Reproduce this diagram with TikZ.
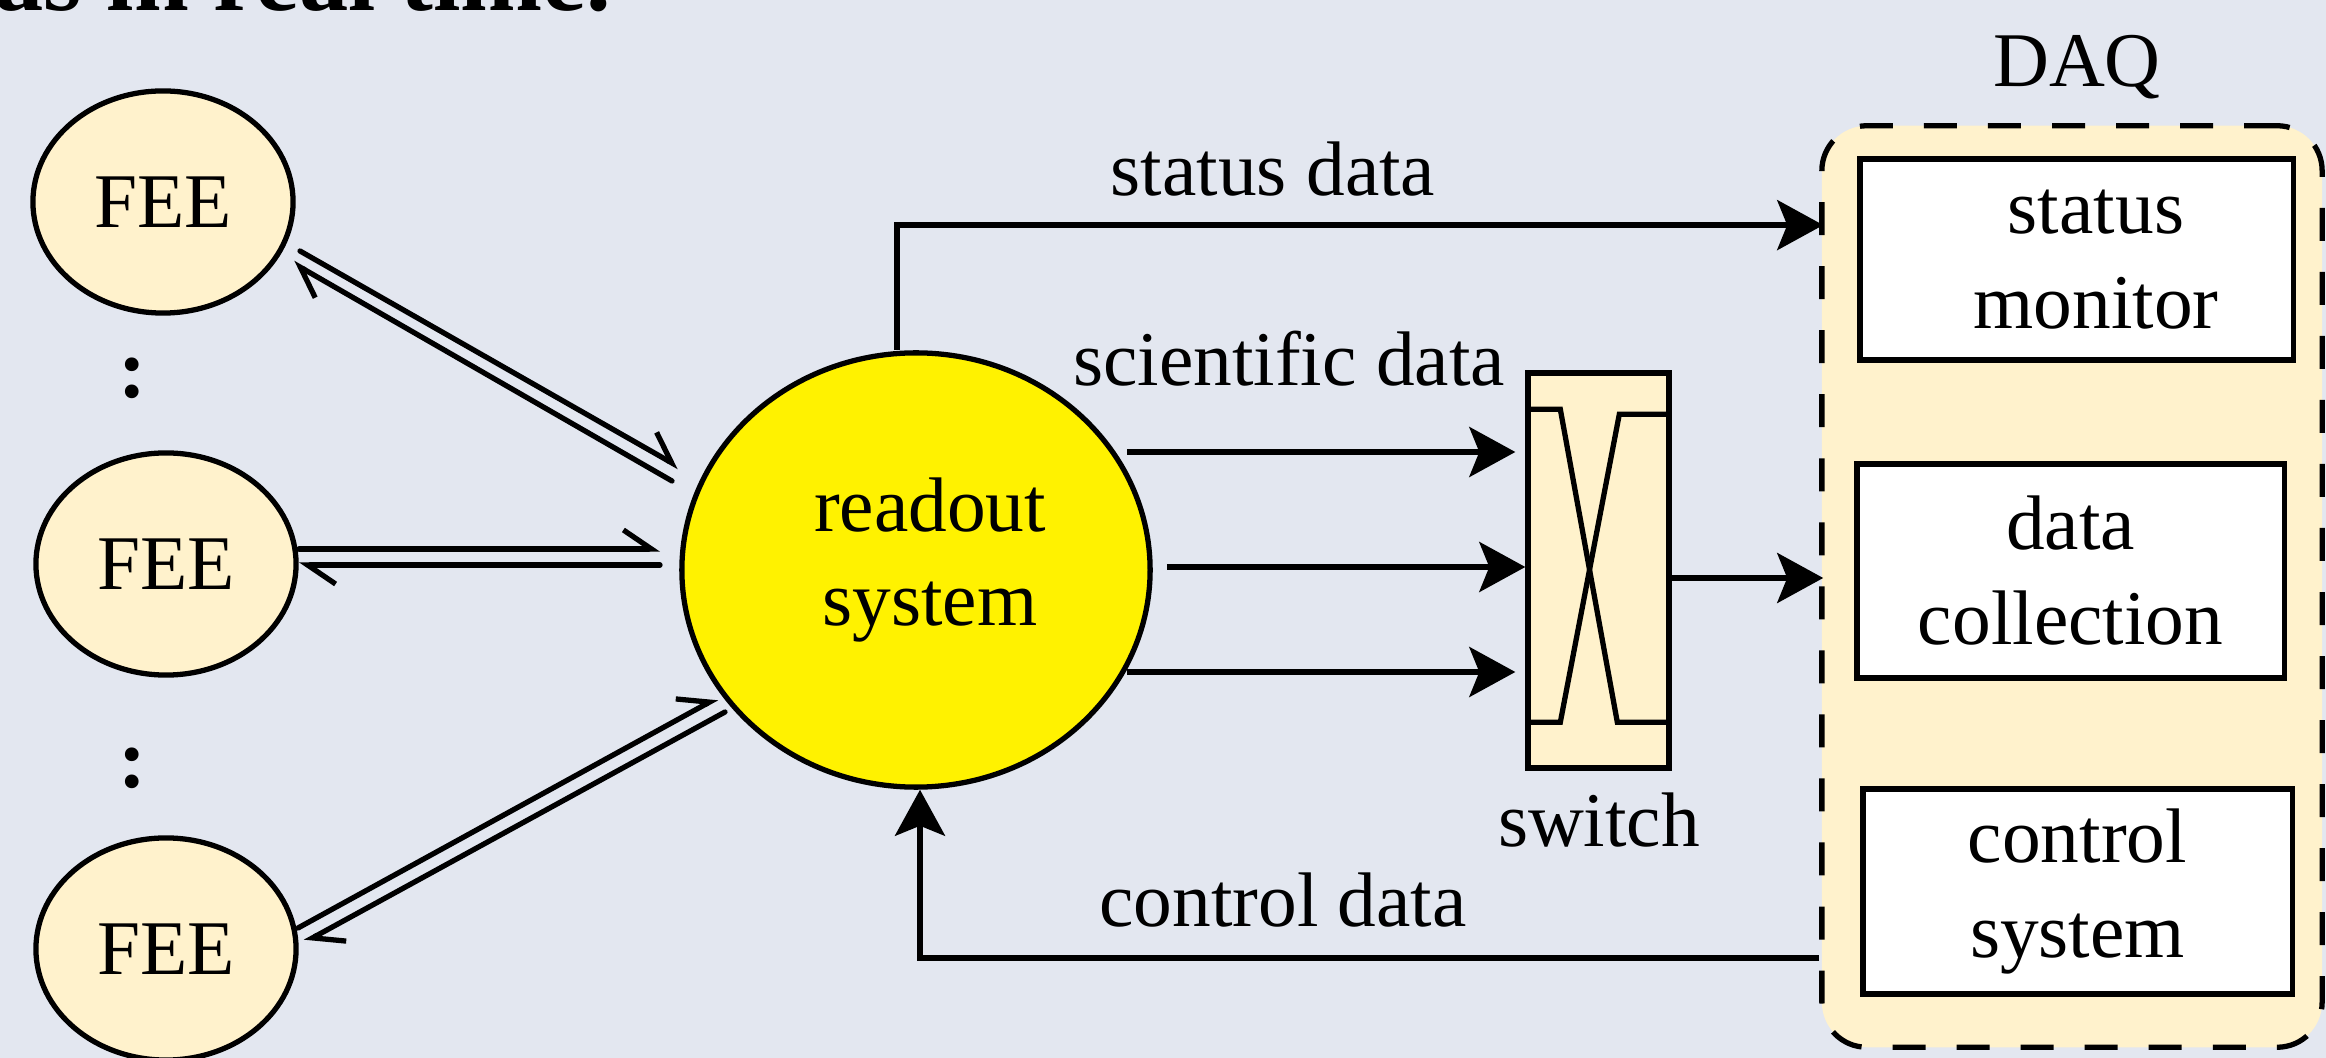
\documentclass[tikz,border=0pt]{standalone}
\usepackage{fontspec}
\setmainfont{Liberation Serif}
\usetikzlibrary{arrows.meta,shapes.geometric,calc}
\definecolor{bg}{HTML}{E3E7F0}
\definecolor{cream}{HTML}{FFF2CC}
\begin{document}
\begin{tikzpicture}[x=0.01cm,y=-0.01cm,
  every node/.style={font=\fontsize{22}{27}\selectfont},
  lw/.style={line width=1.5pt},
  fee/.style={ellipse,draw,lw,fill=cream,minimum width=2.6cm,minimum height=2.22cm,inner sep=0pt},
  ronode/.style={ellipse,draw,lw,fill=yellow,minimum width=4.68cm,minimum height=4.34cm,align=center,inner sep=0pt},
  box/.style={rectangle,draw,lw,fill=white,align=center,inner sep=0pt},
  arr/.style={lw,-{Stealth[length=0.46cm,width=0.5cm,inset=0.1cm]}},
  harp/.style={lw,line cap=round,-{Straight Barb[harpoon,length=0.28cm,width=0.38cm]}},
  lbl/.style={inner sep=0pt},
  dots/.style={inner sep=0pt,font=\fontsize{24}{28}\selectfont\bfseries}
]
\fill[bg] (0,0) rectangle (2326,1058);
\useasboundingbox (0,0) rectangle (2326,1058);
\clip (0,0) rectangle (2326,1058);

\node[lbl,anchor=base west,font=\fontsize{28}{33}\selectfont\bfseries] (top) at (-6,11) {as in real time.};

% FEE nodes
\node[fee] (fee1) at (163,202) {FEE};
\node[fee] (fee2) at (166,564) {FEE};
\node[fee] (fee3) at (166,949) {FEE};
\node[dots] (d1) at (133,378) {:};
\node[dots] (d2) at (133,768) {:};

% readout
\node[ronode] (ro) at (916,570) {};
\node[lbl,align=center] (rotext) at (930,560) {readout\\system};

% switch
\node[rectangle,draw,lw,fill=cream,minimum width=1.41cm,minimum height=3.95cm,inner sep=0pt] (sw) at (1598.5,570.5) {};
\draw[lw] ($(sw.north west)+(0,39)$) -- ($(sw.north west)+(35,39)$) -- ($(sw.north west)+(92,352)$) -- ($(sw.north west)+(141,352)$);
\draw[lw] ($(sw.north west)+(141,44)$) -- ($(sw.north west)+(94,44)$) -- ($(sw.north west)+(35,352)$) -- ($(sw.north west)+(0,352)$);
\node[lbl] (swl) at (1599,820) {switch};

% DAQ
\node[rectangle,draw,lw,fill=cream,rounded corners=0.45cm,dash pattern=on 0.33cm off 0.31cm,minimum width=5.0cm,minimum height=9.21cm,inner sep=0pt] (daq) at (2072,586.5) {};
\node[lbl] (daql) at (2077,67) {DAQ};
\node[box,minimum width=4.33cm,minimum height=2.01cm] (sm) at (2076.5,259.5) {};
\node[lbl,align=center] (smt) at (2096,259.5) {status\\monitor};
\node[box,minimum width=4.27cm,minimum height=2.14cm] (dc) at (2070.5,571) {data\\collection};
\node[box,minimum width=4.29cm,minimum height=2.05cm] (cs) at (2077.5,891.5) {control\\system};

% FEE <-> readout
\draw[harp] ($(fee1.center)+(137,49)$) -- ($(ro.center)+(-237,-103)$);
\draw[harp] ($(ro.center)+(-244,-89)$) -- ($(fee1.center)+(130,61)$);
\draw[harp] ($(fee2.center)+(133,-15)$) -- ($(ro.center)+(-256,-21)$);
\draw[harp] ($(ro.center)+(-256,-5)$) -- ($(fee2.center)+(133,1)$);
\draw[harp] ($(fee3.center)+(132,-21)$) -- ($(ro.center)+(-199,128)$);
\draw[harp] ($(ro.center)+(-191,142)$) -- ($(fee3.center)+(139,-7)$);

% status data
\draw[arr] ($(ro.north)+(-19,0)$) |- ($(daq.north west)+(4,102)$);
\node[lbl] (sdl) at (1273,169) {status data};

% scientific data
\draw[arr] ($(ro.center)+(211,-118)$) -- ($(sw.west)+(-10,-118.5)$);
\draw[arr] ($(ro.east)+(14,-3)$) -- ($(sw.west)+(0,-3.5)$);
\draw[arr] ($(ro.center)+(211,102)$) -- ($(sw.west)+(-10,101.5)$);
\node[lbl] (scl) at (1289,359) {scientific data};

% switch -> DAQ
\draw[arr] ($(sw.east)+(0,7.5)$) -- ($(daq.west)+(4,-8.5)$);

% control data
\draw[arr] ($(daq.west)+(0,371.5)$) -| ($(ro.south)+(4,0)$);
\node[lbl] (cdl) at (1283,900) {control data};
\end{tikzpicture}
\end{document}
